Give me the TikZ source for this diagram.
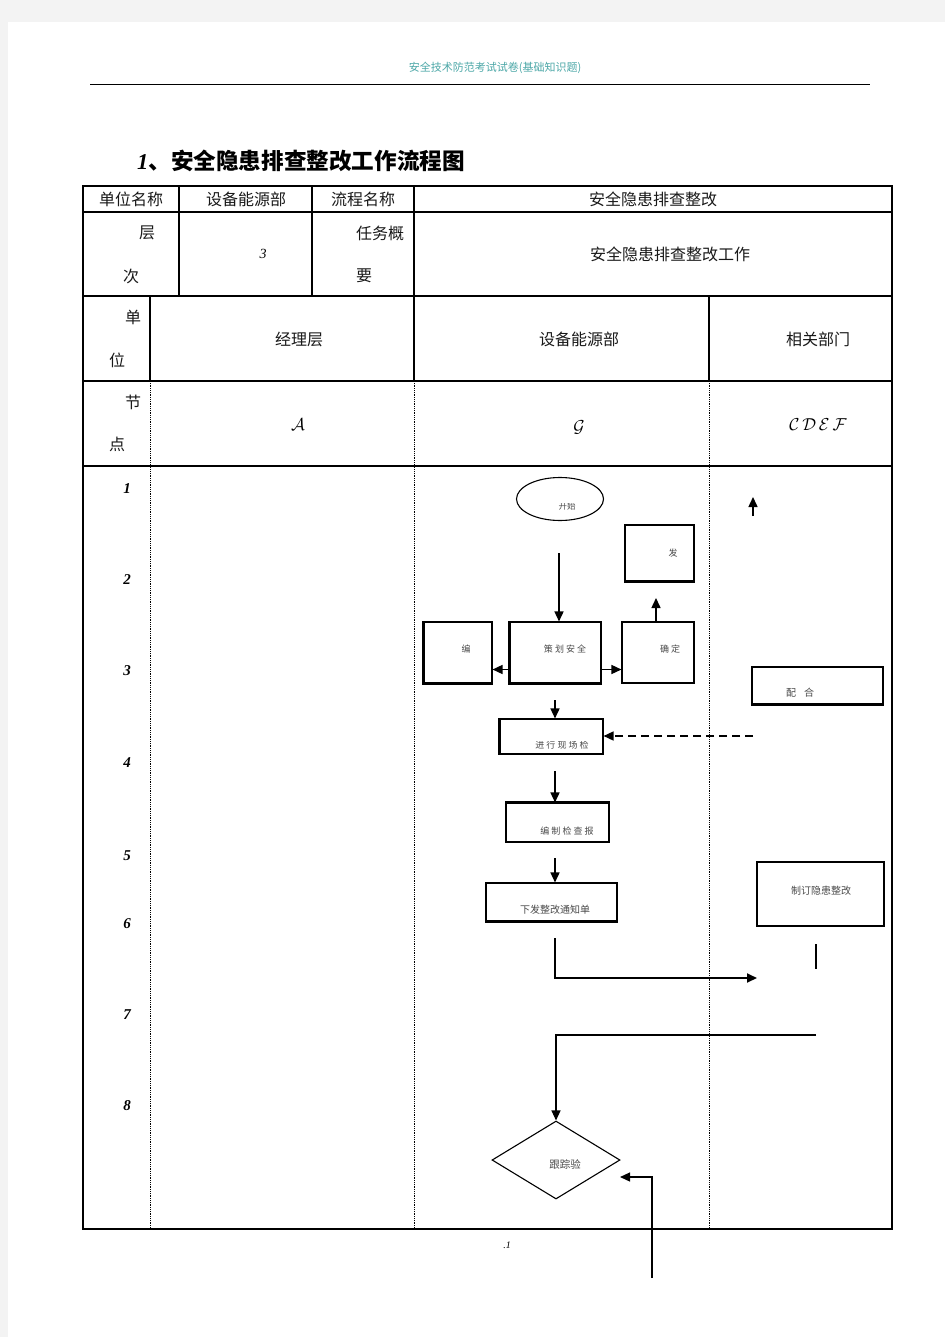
\documentclass[tikz,border=0pt]{standalone}
\usepackage{fontspec}
\setmainfont{Liberation Serif}
\newfontfamily\cjk{Noto Sans CJK SC}
\usetikzlibrary{arrows.meta,shapes.geometric}
\definecolor{pagegray}{HTML}{F3F3F3}
\definecolor{headteal}{HTML}{4DA8A8}
\definecolor{boxgray}{HTML}{4A4A4A}
\tikzset{
	cell/.style={inner sep=0pt, text=black!90, font=\cjk\fontsize{16}{16}\selectfont},
	tagnum/.style={inner sep=0pt, font=\bfseries\itshape\fontsize{15}{15}\selectfont},
	scriptlbl/.style={inner sep=0pt, font=\fontsize{18}{18}\selectfont},
	stepbox/.style={draw, line width=1.1pt, inner sep=0pt},
	heavy/.style={line width=2.2pt},
	boxtext/.style={inner sep=0pt, text=boxgray, font=\cjk\fontsize{9}{9}\selectfont},
	flow/.style={line width=1.5pt, -{Triangle[length=10pt,width=9pt]}},
	lane/.style={line width=0.8pt, densely dotted},
	tablerule/.style={line width=1.1pt}
}
\begin{document}
\begin{tikzpicture}[x=1pt, y=-1pt]
	\useasboundingbox (0,0) rectangle (945,1337);
	\fill[pagegray] (0,0) rectangle (945,1337);
	\fill[white] (8,22) rectangle (945,1337);

	% page head
	\node (head) [inner sep=0pt, text=headteal, font=\cjk\fontsize{11}{11}\selectfont] at (495,68) {安全技术防范考试试卷(基础知识题)};
	\draw[line width=1pt] (90,85) -- (870,85);
	\node (title) [anchor=west, inner sep=0pt, font=\cjk\bfseries\fontsize{22.6}{22.6}\selectfont] at (137,161) {{\rmfamily\bfseries\itshape 1}、安全隐患排查整改工作流程图};

	% table
	\draw[tablerule] (83,186) rectangle (892,1229);
	\foreach \y in {212,296,381,466} \draw[tablerule] (83,\y) -- (892,\y);
	\foreach \x in {179,312,414} \draw[tablerule] (\x,186) -- (\x,296);
	\foreach \x in {150,414,709} {
		\draw[tablerule] (\x,296) -- (\x,381);
		\draw[lane] (\x,381) -- (\x,1229);
	}

	\node (unitname) [cell] at (131,199) {单位名称};
	\node (unit) [cell] at (246,199) {设备能源部};
	\node (procname) [cell] at (363,199) {流程名称};
	\node (proc) [cell] at (653,199) {安全隐患排查整改};
	\node (levA) [cell] at (147,233) {层};
	\node (levB) [cell] at (131,276) {次};
	\node (lev) [inner sep=0pt, font=\itshape\fontsize{14}{14}\selectfont] at (263,254) {3};
	\node (taskA) [cell] at (380,233) {任务概};
	\node (taskB) [cell] at (364,276) {要};
	\node (task) [cell] at (670,254) {安全隐患排查整改工作};
	\node (deptA) [cell] at (133,317) {单};
	\node (deptB) [cell] at (117,360) {位};
	\node (mgr) [cell] at (299,339) {经理层};
	\node (equip) [cell] at (579,339) {设备能源部};
	\node (rel) [cell] at (818,339) {相关部门};
	\node (nodeA) [cell] at (133,402) {节};
	\node (nodeB) [cell] at (117,444) {点};
	\node (mgrN) [scriptlbl] at (298,425) {$\mathcal{A}$};
	\node (equipN) [scriptlbl] at (579,427) {$\mathcal{G}$};
	\node (relN) [scriptlbl] at (818,425) {$\mathcal{C}\,\mathcal{D}\,\mathcal{E}\,\mathcal{F}$};

	% step numbers
	\foreach \n/\y in {1/489,2/580,3/671,4/763,5/856,6/924,7/1015,8/1106}
		\node (num\n) [tagnum] at (127,\y) {\n};

	% flow boxes
	\node (start) [draw, ellipse, line width=1.1pt, minimum width=87pt, minimum height=43pt, inner sep=0pt] at (560,499) {};
	\node (issue) [stepbox, minimum width=69pt, minimum height=56pt] at (659.5,553) {};
	\node (edit) [stepbox, minimum width=68pt, minimum height=61pt] at (458,652.5) {};
	\node (plan) [stepbox, minimum width=91pt, minimum height=61pt] at (555.5,652.5) {};
	\node (conf) [stepbox, minimum width=72pt, minimum height=61pt] at (658,652.5) {};
	\node (assist) [stepbox, minimum width=131pt, minimum height=37pt] at (817.5,685.5) {};
	\node (check) [stepbox, minimum width=103pt, minimum height=35pt] at (551.5,736.5) {};
	\node (report) [stepbox, minimum width=103pt, minimum height=39pt] at (557.5,822.5) {};
	\node (notice) [stepbox, minimum width=131pt, minimum height=38pt] at (551.5,902) {};
	\node (rectify) [stepbox, minimum width=127pt, minimum height=64pt] at (820.5,894) {};
	\node (track) [draw, diamond, line width=1.1pt, minimum width=128pt, minimum height=78pt, inner sep=0pt] at (556,1160) {};

	% heavier edges
	\draw[heavy] (edit.north west) -- (edit.south west) -- (edit.south east);
	\draw[heavy] (plan.north west) -- (plan.south west) -- (plan.south east);
	\draw[heavy] (issue.south west) -- (issue.south east);
	\draw[heavy] (assist.south west) -- (assist.south east);
	\draw[heavy] (check.north west) -- (check.south west);
	\draw[heavy] (report.north west) -- (report.north east);
	\draw[heavy] (notice.south west) -- (notice.south east);

	% box texts
	\begin{scope}
		\clip (520,503) rectangle (600,520);
		\node (startT) [boxtext, font=\cjk\fontsize{8.5}{8.5}\selectfont] at (567,506) {开始};
	\end{scope}
	\node (issueT) [boxtext] at (673,553) {发};
	\node (editT) [boxtext] at (466,649) {编};
	\node (planT) [boxtext] at (565,649) {策 划 安 全};
	\node (confT) [boxtext] at (670,649) {确 定};
	\node (assistT) [boxtext, font=\cjk\fontsize{10}{10}\selectfont] at (800,693) {配\hspace{8pt}合};
	\begin{scope}
		\clip (502,741.5) rectangle (601,752);
		\node (checkT) [boxtext] at (562,745) {进 行 现 场 检};
	\end{scope}
	\node (reportT) [boxtext] at (567,831) {编 制 检 查 报};
	\node (noticeT) [boxtext, font=\cjk\fontsize{10}{10}\selectfont] at (555,910) {下发整改通知单};
	\node (rectifyT) [boxtext, font=\cjk\fontsize{10}{10}\selectfont] at (821,891) {制订隐患整改};
	\node (trackT) [boxtext, font=\cjk\fontsize{10.5}{10.5}\selectfont] at (565,1164) {跟踪验};

	% connectors
	\coordinate (s1) at (559,553);
	\draw[flow] (s1) -- (s1 |- plan.north);
	\draw[flow] ([yshift=-17pt]plan.west) -- ([yshift=-17pt]edit.east);
	\draw[flow] ([yshift=-17pt]plan.east) -- ([yshift=-17pt]conf.west);
	\coordinate (u1) at (656,598);
	\draw[flow] (u1 |- conf.north) -- (u1);
	\coordinate (u2a) at (753,516);
	\coordinate (u2b) at (753,497);
	\draw[flow] (u2a) -- (u2b);
	\coordinate (d1) at (753,736);
	\draw[flow, dash pattern=on 8pt off 5pt] (d1) -- (d1 -| check.east);
	\coordinate (a2) at (555,700);
	\draw[flow] (a2) -- (a2 |- check.north);
	\coordinate (a3) at (555,771);
	\draw[flow] (a3) -- (a3 |- report.north);
	\coordinate (a4) at (555,858);
	\draw[flow] (a4) -- (a4 |- notice.north);
	\coordinate (a5) at (555,938);
	\coordinate (a5e) at (757,978);
	\draw[flow, line width=1.8pt] (a5) |- (a5e);
	\coordinate (st1) at (816,944);
	\coordinate (st2) at (816,969);
	\draw[line width=1.8pt] (st1) -- (st2);
	\coordinate (r1) at (816,1035);
	\draw[flow, line width=1.2pt] (r1) -| (track.north);
	\coordinate (r2) at (652,1278);
	\coordinate (r2e) at (620,1177);
	\draw[flow, line width=1.2pt] (r2) |- (r2e);

	\node (pageno) [inner sep=0pt, font=\itshape\fontsize{10}{10}\selectfont] at (507,1245) {.1};
\end{tikzpicture}
\end{document}
